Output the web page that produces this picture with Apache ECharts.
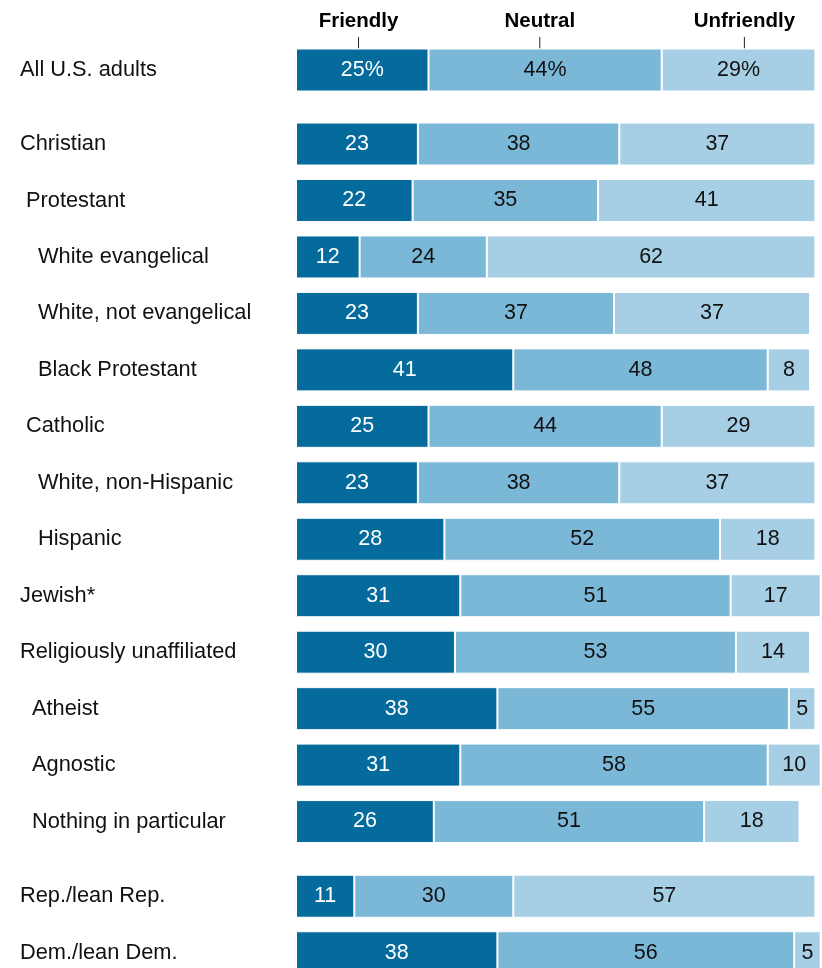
<!DOCTYPE html>
<html lang="en">
<head>
    <meta charset="UTF-8">
    <title>echarts</title>
    <script src="https://cdn.jsdelivr.net/npm/echarts@6/dist/echarts.min.js"></script>
    <style>
        html, body { margin: 0; padding: 0; background: #fff; }
        #main { width: 822px; height: 968px; }
    </style>
</head>
<body>
<div id="main"></div>
<script type="text/javascript">
    // data
    var categories = ['All U.S. adults', 'Christian', 'Protestant', 'White evangelical',
        'White, not evangelical', 'Black Protestant', 'Catholic', 'White, non-Hispanic',
        'Hispanic', 'Jewish*', 'Religiously unaffiliated', 'Atheist', 'Agnostic',
        'Nothing in particular', 'Rep./lean Rep.', 'Dem./lean Dem.'];
    var indent = [0, 0, 6, 18, 18, 18, 6, 18, 18, 0, 0, 12, 12, 12, 0, 0];
    var friendly   = [25, 23, 22, 12, 23, 41, 25, 23, 28, 31, 30, 38, 31, 26, 11, 38];
    var neutral    = [44, 38, 35, 24, 37, 48, 44, 38, 52, 51, 53, 55, 58, 51, 30, 56];
    var unfriendly = [29, 37, 41, 62, 37, 8, 29, 37, 18, 17, 14, 5, 10, 18, 57, 5];
    var groupSizes = [1, 13, 2];
    var headers = ['Friendly', 'Neutral', 'Unfriendly'];
    var headerAt = [11.8, 46, 84.6];

    var colors = ['#046b9c', '#7bb7d7', '#a6cee4'];
    var font = "'Liberation Sans', Arial, sans-serif";
    // grid layout: [top, height]
    var gridBox = [[41.75, 56.5], [115.8, 734], [868, 113]];

    var myChart = echarts.init(document.getElementById('main'));

    var rich = {};
    indent.forEach(function (p) {
        rich['i' + p] = { padding: [0, 0, 0, p], fontSize: 21.8, fontFamily: font, color: '#111' };
    });

    var grids = [], xAxes = [], yAxes = [], series = [];
    var start = 0;
    groupSizes.forEach(function (n, g) {
        var off = start;
        grids.push({ left: 296, width: 530, top: gridBox[g][0], height: gridBox[g][1],
            outerBoundsMode: 'none' });
        xAxes.push({ type: 'value', gridIndex: g, min: 0, max: 100, show: false });
        yAxes.push({
            type: 'category', gridIndex: g, inverse: true,
            data: categories.slice(off, off + n),
            axisLine: { show: false }, axisTick: { show: false },
            axisLabel: {
                align: 'left', margin: 276,
                formatter: function (v, i) {
                    return '{i' + indent[off + i] + '|' + v + '}';
                },
                rich: rich
            }
        });
        [friendly, neutral, unfriendly].forEach(function (arr, s) {
            series.push({
                type: 'bar', stack: 'g' + g, xAxisIndex: g, yAxisIndex: g,
                barWidth: 43,
                data: arr.slice(off, off + n),
                itemStyle: { color: colors[s], borderColor: '#fff', borderWidth: 1 },
                label: {
                    show: true, position: 'inside',
                    fontSize: 21.5, fontFamily: font,
                    color: s === 0 ? '#fff' : '#111',
                    formatter: function (p) {
                        return g === 0 ? p.value + '%' : p.value;
                    }
                },
                emphasis: { disabled: true },
                animation: false
            });
        });
        start += n;
    });

    myChart.setOption({
        animation: false,
        grid: grids,
        xAxis: xAxes,
        yAxis: yAxes,
        series: series
    });

    // header labels with small tick lines pointing at the first bar
    var graphic = [];
    headers.forEach(function (h, i) {
        var x = myChart.convertToPixel({ xAxisIndex: 0 }, headerAt[i]);
        graphic.push({
            type: 'text', x: x, y: 21,
            style: { text: h, fontSize: 20.5, fontWeight: 'bold', fontFamily: font,
                fill: '#000', textAlign: 'center', textVerticalAlign: 'middle' }
        });
        graphic.push({
            type: 'line', shape: { x1: x, y1: 37, x2: x, y2: 48.5 },
            style: { stroke: '#222', lineWidth: 1 }
        });
    });
    myChart.setOption({ graphic: graphic });
</script>
</body>
</html>
